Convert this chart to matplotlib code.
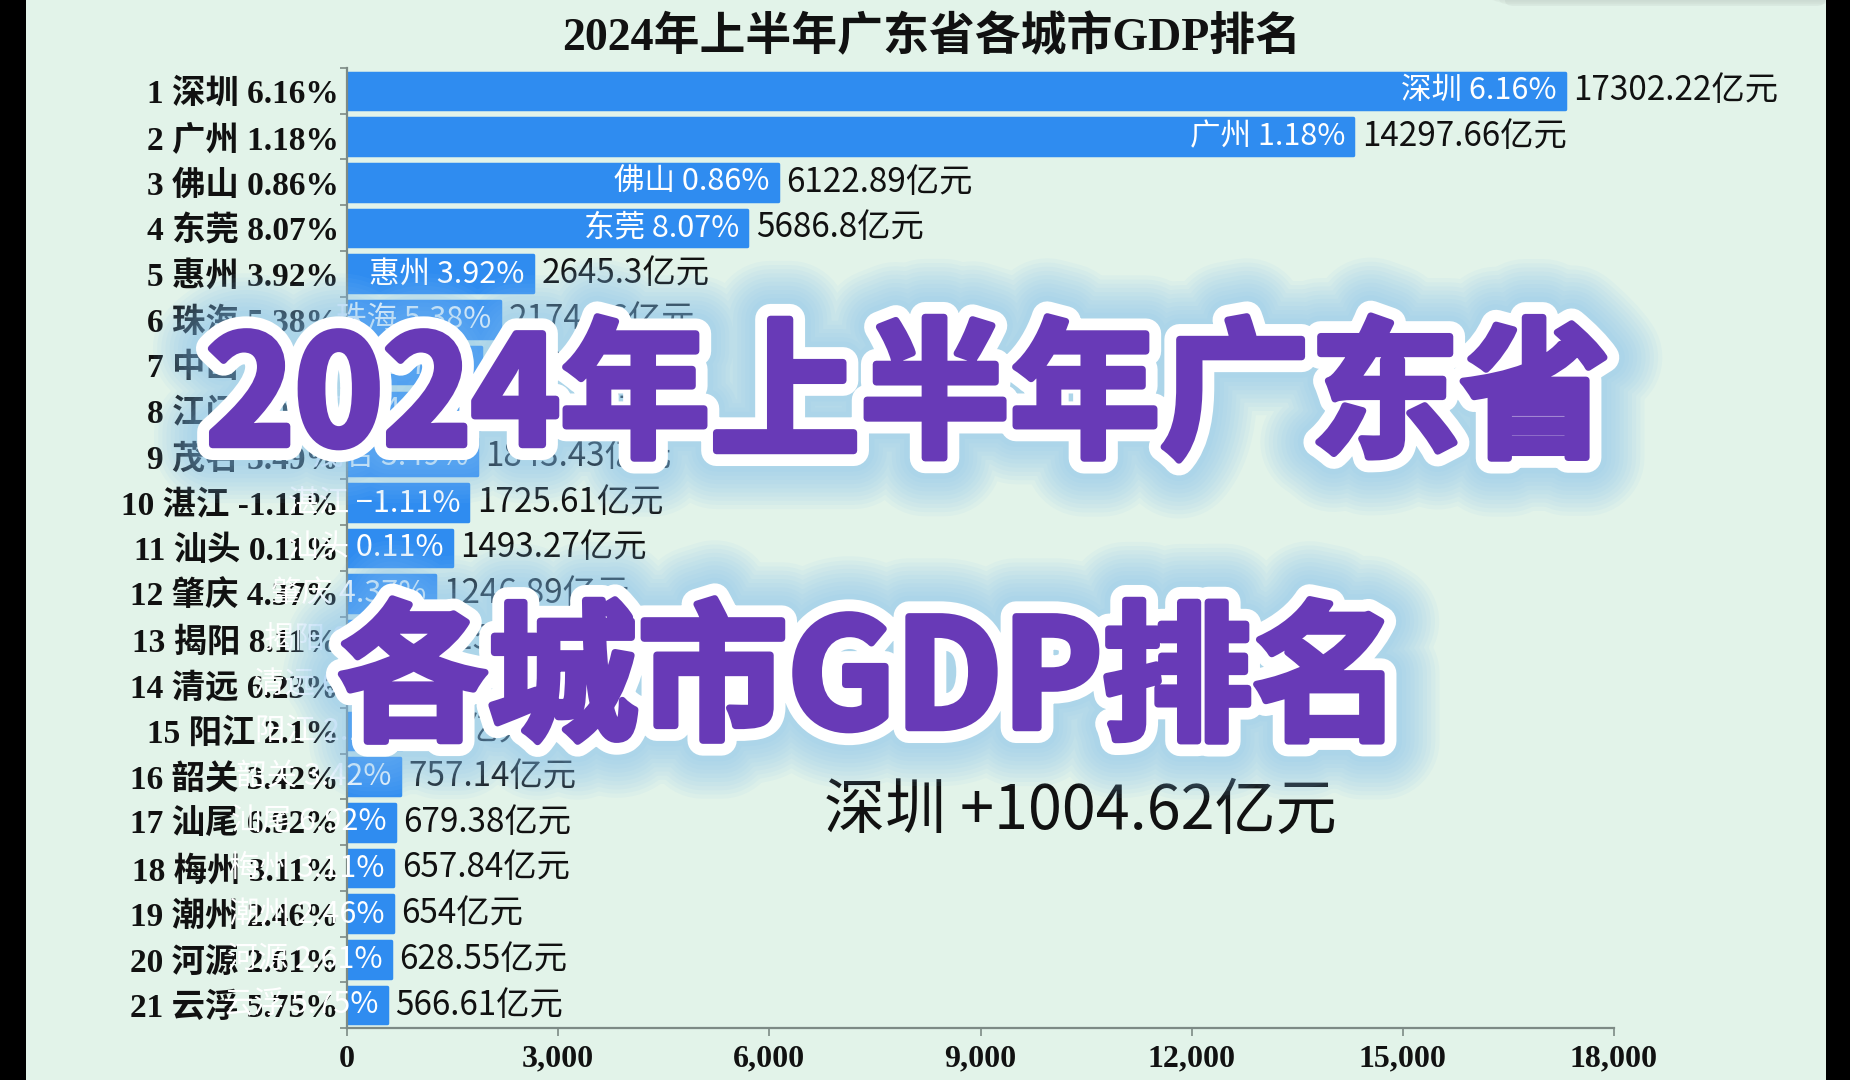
import matplotlib
matplotlib.use('Agg')
import matplotlib.pyplot as plt
import matplotlib.patheffects as pe
from matplotlib.patches import Rectangle, FancyBboxPatch
from matplotlib.ticker import FuncFormatter, FixedLocator
import numpy as np

# ---------------- data ----------------
ranks = list(range(1, 22))
cities = ['深圳', '广州', '佛山', '东莞', '惠州', '珠海', '中山', '江门', '茂名', '湛江',
          '汕头', '肇庆', '揭阳', '清远', '阳江', '韶关', '汕尾', '梅州', '潮州', '河源', '云浮']
gdp = [17302.22, 14297.66, 6122.89, 5686.8, 2645.3, 2174.26, 1898.38, 1886.78, 1843.43, 1725.61,
       1493.27, 1246.89, 1152.0, 1003.0, 778.0, 757.14, 679.38, 657.84, 654, 628.55, 566.61]
growth = ['6.16%', '1.18%', '0.86%', '8.07%', '3.92%', '5.38%', '1.70%', '4.06%', '3.49%', '-1.11%',
          '0.11%', '4.37%', '8.11%', '6.23%', '2.1%', '3.42%', '6.92%', '3.11%', '2.46%', '2.61%', '5.75%']
x_ticks = [0, 3000, 6000, 9000, 12000, 15000, 18000]
title = '2024年上半年广东省各城市GDP排名'
overlay_line1 = '2024年上半年广东省'
overlay_line2 = '各城市GDP排名'
increment_city = '深圳'
increment_value = 1004.62

BG = '#e2f3e9'
BAR = '#2f8cf0'
PURPLE = '#683ab7'
SERIF = ['Liberation Serif', 'Noto Sans CJK SC', 'DejaVu Sans']
SANS = ['Noto Sans CJK SC', 'DejaVu Sans']


def fmt_val(v):
    s = '%.2f' % v
    s = s.rstrip('0').rstrip('.')
    return s + '亿元'


fig = plt.figure(figsize=(18.5, 10.8), dpi=100, facecolor=BG)

ax = fig.add_axes([347 / 1850, 1 - 1028 / 1080, (1614 - 347) / 1850, 960 / 1080])
ax.set_facecolor('none')
y = np.arange(len(cities))
bars = ax.barh(y, gdp, height=0.8, color=BAR, edgecolor=BAR, linewidth=2.5,
               joinstyle='round', zorder=2)
ax.set_xlim(0, 18000)
ax.set_ylim(len(cities) - 0.5, -0.5)

for sp in ['top', 'right']:
    ax.spines[sp].set_visible(False)
for sp in ['left', 'bottom']:
    ax.spines[sp].set_color('#7d8a85')
    ax.spines[sp].set_linewidth(1.6)

ax.set_xticks(x_ticks)
ax.xaxis.set_major_formatter(FuncFormatter(lambda v, p: '{:,}'.format(int(v))))
ax.tick_params(axis='x', length=6, width=1.2, color='#7d8a85', pad=6)
for lab in ax.get_xticklabels():
    lab.set_fontfamily(SERIF)
    lab.set_fontweight('bold')
    lab.set_fontsize(23)
    lab.set_color('#111111')

ax.set_yticks(y)
ax.set_yticklabels([f'{r} {c} {g}' for r, c, g in zip(ranks, cities, growth)])
ax.tick_params(axis='y', length=0, pad=6)
for lab in ax.get_yticklabels():
    lab.set_fontfamily(SERIF)
    lab.set_fontweight('bold')
    lab.set_fontsize(24)
    lab.set_color('#111111')
ax.yaxis.set_minor_locator(FixedLocator(np.arange(len(cities) + 1) - 0.5))
ax.tick_params(axis='y', which='minor', length=5, width=1.2, color='#7d8a85')

for i, (c, g, v) in enumerate(zip(cities, growth, gdp)):
    ax.annotate(f'{c} {g.replace("-", "−")}', xy=(v, i), xytext=(-6, 0),
                textcoords='offset points', ha='right', va='center',
                color='white', fontsize=22, family=SANS, fontweight='medium',
                annotation_clip=False, zorder=5)
    ax.annotate(fmt_val(v), xy=(v, i), xytext=(6, 0), textcoords='offset points',
                ha='left', va='center', color='#111111', fontsize=24, family=SANS,
                annotation_clip=False, zorder=5)

# title
fig.text(932 / 1850, 1 - 38 / 1080, title, ha='center', va='center', fontsize=33,
         fontweight='bold', family=SERIF, color='#111111')

# increment annotation
fig.text(1080 / 1850, 1 - 812 / 1080, f'{increment_city} +{increment_value}亿元',
         ha='center', va='center', fontsize=44, family=SANS, color='#111111')

# big overlay text with white outline and blue glow
glow = (0.50, 0.75, 0.94)
effects = []
for w in range(84, 24, -6):
    effects.append(pe.Stroke(linewidth=w, foreground=glow, alpha=0.07))
effects += [
    pe.Stroke(linewidth=22, foreground='white'),
    pe.Stroke(linewidth=5, foreground=PURPLE),
    pe.Normal(),
]
for txt, cx, cy in [(overlay_line1, 908, 401), (overlay_line2, 870, 684)]:
    fig.text(cx / 1850, 1 - cy / 1080, txt, ha='center', va='center', fontsize=108,
             fontweight='heavy', family=SANS, color=PURPLE, path_effects=effects,
             zorder=20)

# top-right shadow of a floating card
for k, a in enumerate([0.05, 0.07, 0.09, 0.12]):
    d = (3 - k) * 6
    fig.patches.append(FancyBboxPatch(((1505 - d) / 1850, (1080 - 6 + d * 0.3) / 1080),
                                      (320 + 2 * d) / 1850, 40 / 1080,
                                      boxstyle='round,pad=0,rounding_size=0.005',
                                      transform=fig.transFigure, facecolor='#9aa3a0',
                                      edgecolor='none', alpha=a, zorder=1))

# black side strips
fig.patches.append(Rectangle((0, 0), 26 / 1850, 1, transform=fig.transFigure,
                             facecolor='black', edgecolor='none', zorder=30))
fig.patches.append(Rectangle((1826 / 1850, 0), 24 / 1850, 1, transform=fig.transFigure,
                             facecolor='black', edgecolor='none', zorder=30))

fig.savefig('out.png', dpi=100, facecolor=BG)
